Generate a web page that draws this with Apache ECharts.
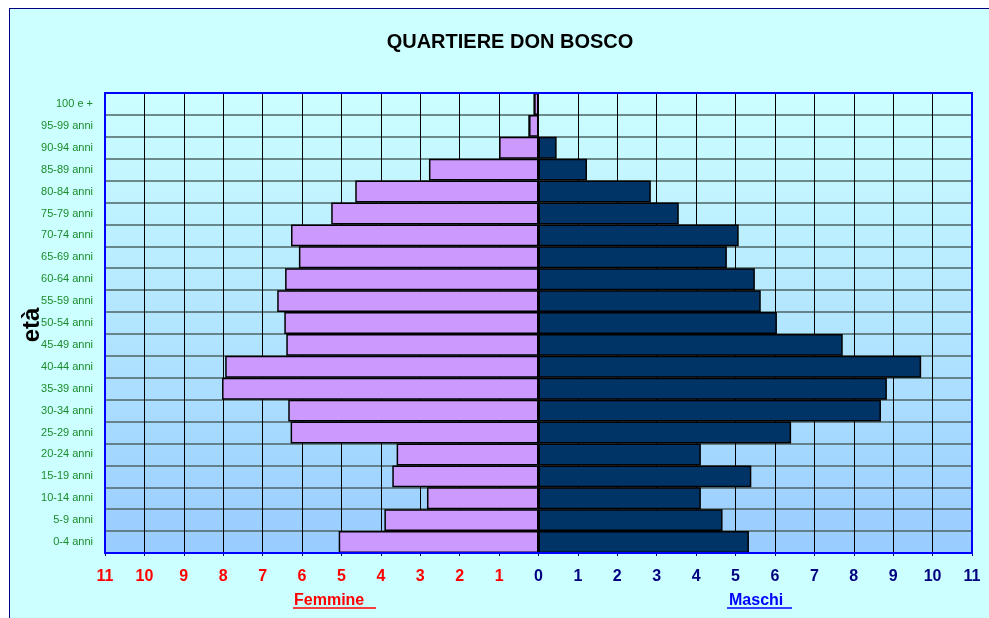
<!DOCTYPE html>
<html>
<head>
<meta charset="utf-8">
<script src="https://cdn.jsdelivr.net/npm/echarts@6/dist/echarts.min.js"></script>
<style>
  html, body { margin: 0; padding: 0; background: #ffffff; }
  .frame {
    position: absolute; left: 9px; top: 8px; right: 0; bottom: 0;
    background: #ccffff;
    border-left: 1px solid #000080;
    border-top: 1px solid #000080;
  }
  #chart { position: absolute; left: 0; top: 0; width: 989px; height: 618px; }
</style>
</head>
<body>
<div class="frame"></div>
<div id="chart"></div>
<script>
// age classes, bottom to top
const ages = ['0-4 anni', '5-9 anni', '10-14 anni', '15-19 anni', '20-24 anni', '25-29 anni',
  '30-34 anni', '35-39 anni', '40-44 anni', '45-49 anni', '50-54 anni', '55-59 anni',
  '60-64 anni', '65-69 anni', '70-74 anni', '75-79 anni', '80-84 anni', '85-89 anni',
  '90-94 anni', '95-99 anni', '100 e +'];

const femmine = [5.07, 3.91, 2.83, 3.71, 3.60, 6.29, 6.35, 8.03, 7.95, 6.40, 6.45, 6.63,
  6.43, 6.08, 6.28, 5.26, 4.65, 2.78, 1.0, 0.24, 0.11];
const maschi = [5.34, 4.67, 4.12, 5.40, 4.12, 6.41, 8.69, 8.84, 9.71, 7.72, 6.05, 5.64,
  5.49, 4.78, 5.08, 3.56, 2.85, 1.23, 0.46, 0, 0];

const xMin = -11;
const xMax = 11;

const chart = echarts.init(document.getElementById('chart'));

const barBorder = { borderColor: '#000000', borderWidth: 1.5 };

chart.setOption({
  backgroundColor: 'transparent',
  animation: false,
  title: {
    text: 'QUARTIERE DON BOSCO',
    left: 505,
    top: 27,
    textAlign: 'center',
    textStyle: { fontFamily: 'Liberation Sans', fontWeight: 'bold', fontSize: 20, color: '#000000' }
  },
  grid: {
    left: 105, top: 93, width: 867, height: 460,
    show: true,
    borderWidth: 0,
    backgroundColor: new echarts.graphic.LinearGradient(0, 0, 0, 1, [
      { offset: 0, color: '#ccffff' },
      { offset: 1, color: '#99ccff' }
    ])
  },
  xAxis: {
    type: 'value',
    min: xMin,
    max: xMax,
    interval: 1,
    axisLine: { show: true, onZero: false, lineStyle: { color: '#000080', width: 2 } },
    axisTick: { show: true, length: 3, lineStyle: { color: '#000080' } },
    axisLabel: {
      margin: 16,
      fontFamily: 'Liberation Sans',
      fontWeight: 'bold',
      fontSize: 16,
      formatter: (v) => String(Math.abs(v)),
      color: (v) => (Number(v) < 0 ? '#ff0000' : '#000080')
    },
    splitLine: { show: true, lineStyle: { color: '#000000', width: 1 } }
  },
  yAxis: {
    type: 'category',
    data: ages,
    axisLine: { show: false },
    axisTick: { show: false },
    axisLabel: {
      margin: 12,
      fontFamily: 'Liberation Sans',
      fontSize: 11,
      color: '#1a8c2a'
    },
    splitLine: { show: true, lineStyle: { color: '#4d6464', width: 1.5 } }
  },
  series: [
    {
      name: 'Femmine',
      type: 'bar',
      stack: 'pyr',
      barCategoryGap: 0,
      data: femmine.map((v) => -v),
      itemStyle: Object.assign({ color: '#cc99ff' }, barBorder)
    },
    {
      name: 'Maschi',
      type: 'bar',
      stack: 'pyr',
      barCategoryGap: 0,
      data: maschi,
      itemStyle: Object.assign({ color: '#003366' }, barBorder)
    }
  ],
  graphic: [
    // plot frame
    {
      type: 'rect', silent: true, z: 100,
      shape: { x: 105, y: 93, width: 867, height: 460 },
      style: { fill: null, stroke: '#0000ff', lineWidth: 2 }
    },
    {
      type: 'text', x: 32, y: 325, rotation: Math.PI / 2,
      style: {
        text: 'età', align: 'center', verticalAlign: 'middle',
        font: 'bold 24px "Liberation Sans"', fill: '#000000'
      }
    },
    {
      type: 'text', x: 294, y: 601,
      style: {
        text: 'Femmine', align: 'left', verticalAlign: 'middle',
        font: 'bold 16px "Liberation Sans"', fill: '#ff0000'
      }
    },
    {
      type: 'line', silent: true,
      shape: { x1: 293, y1: 608, x2: 376, y2: 608 },
      style: { stroke: '#ff0000', lineWidth: 1.5 }
    },
    {
      type: 'text', x: 729, y: 601,
      style: {
        text: 'Maschi', align: 'left', verticalAlign: 'middle',
        font: 'bold 16px "Liberation Sans"', fill: '#0000ff'
      }
    },
    {
      type: 'line', silent: true,
      shape: { x1: 727, y1: 608, x2: 792, y2: 608 },
      style: { stroke: '#0000ff', lineWidth: 1.5 }
    }
  ]
});
</script>
</body>
</html>
